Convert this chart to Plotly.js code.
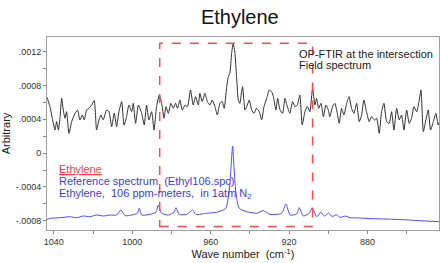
<!DOCTYPE html>
<html>
<head>
<meta charset="utf-8">
<script src="https://cdn.plot.ly/plotly-3.0.1.min.js"></script>
<style>
html,body{margin:0;padding:0;background:#fff;}
#chart{width:440px;height:263px;}
</style>
</head>
<body>
<div id="chart"></div>
<script>
// Field spectrum (OP-FTIR at the intersection)
const fieldWave = [1044.0,1043.7,1042.0,1040.8,1039.4,1038.6,1037.7,1036.9,1036.0,1035.2,1034.3,1033.5,1032.3,1030.9,1029.6,1027.9,1026.7,1025.5,1024.5,1023.3,1022.1,1020.7,1019.4,1018.2,1017.0,1016.0,1014.8,1013.1,1011.9,1010.5,1009.2,1008.0,1006.8,1005.4,1004.2,1002.9,1001.7,1000.3,999.5,998.3,996.9,995.2,993.9,992.7,991.5,990.1,988.9,987.6,986.2,985.0,983.8,982.8,981.6,980.3,979.1,977.9,976.9,975.7,974.5,973.1,971.8,970.3,968.9,967.7,966.3,965.5,964.3,962.9,961.7,960.4,959.2,957.8,956.6,955.3,954.1,953.1,951.9,951.0,950.2,949.3,948.5,947.6,946.8,945.9,945.1,944.2,943.7,942.5,941.3,940.3,939.1,937.9,936.6,935.2,934.0,932.8,931.4,930.1,928.9,928.0,926.7,925.8,924.6,923.3,922.1,920.9,919.6,918.2,917.0,915.8,914.5,913.3,911.9,910.7,909.4,908.0,906.8,906.0,904.9,903.7,902.5,901.2,900.0,899.2,897.8,896.6,895.4,894.4,893.2,892.0,890.6,889.4,888.1,886.9,885.5,884.2,883.0,881.8,880.5,879.1,877.9,876.5,875.3,874.0,872.8,871.6,870.2,868.9,867.7,866.5,865.1,863.8,862.6,861.4,860.0,858.7,857.5,856.3,854.9,853.7,852.7,851.5,850.2,849.0,847.8,846.4,845.1,843.9,843.0];
const fieldValue = [6.70e-4,6.68e-4,5.50e-4,4.12e-4,2.73e-4,3.72e-4,2.73e-4,4.12e-4,6.48e-4,5.10e-4,4.12e-4,4.90e-4,2.34e-4,3.72e-4,4.51e-4,5.10e-4,3.92e-4,4.51e-4,3.92e-4,5.10e-4,5.30e-4,5.69e-4,6.21e-4,2.73e-4,3.92e-4,4.51e-4,3.92e-4,5.10e-4,4.90e-4,3.13e-4,4.71e-4,3.13e-4,4.90e-4,6.09e-4,3.33e-4,4.31e-4,5.69e-4,4.90e-4,5.89e-4,3.52e-4,5.69e-4,4.71e-4,3.33e-4,5.69e-4,3.92e-4,4.90e-4,2.73e-4,5.50e-4,6.88e-4,5.89e-4,4.12e-4,5.50e-4,4.71e-4,5.89e-4,5.30e-4,5.89e-4,5.30e-4,6.28e-4,5.10e-4,5.69e-4,5.50e-4,7.47e-4,5.69e-4,6.68e-4,5.69e-4,7.07e-4,6.09e-4,7.07e-4,6.09e-4,5.69e-4,6.28e-4,5.50e-4,4.51e-4,5.89e-4,6.09e-4,5.30e-4,7.66e-4,9.05e-4,9.44e-4,11.81e-4,12.99e-4,11.81e-4,9.05e-4,6.28e-4,5.89e-4,7.30e-4,7.86e-4,5.10e-4,5.69e-4,6.28e-4,5.10e-4,4.71e-4,5.30e-4,4.90e-4,3.92e-4,5.50e-4,6.48e-4,7.47e-4,7.27e-4,6.68e-4,5.10e-4,6.48e-4,5.10e-4,4.71e-4,6.48e-4,5.50e-4,4.71e-4,6.09e-4,5.50e-4,5.69e-4,6.88e-4,3.33e-4,4.90e-4,5.50e-4,4.90e-4,7.66e-4,5.69e-4,6.48e-4,5.30e-4,5.89e-4,4.31e-4,5.69e-4,5.10e-4,4.31e-4,5.50e-4,5.89e-4,4.71e-4,3.52e-4,5.30e-4,4.51e-4,5.89e-4,6.68e-4,5.30e-4,4.71e-4,5.89e-4,3.72e-4,4.51e-4,6.28e-4,4.90e-4,3.72e-4,4.31e-4,3.92e-4,4.12e-4,2.34e-4,4.90e-4,5.89e-4,3.72e-4,3.52e-4,4.90e-4,2.73e-4,5.30e-4,3.92e-4,4.51e-4,2.73e-4,5.10e-4,3.52e-4,4.12e-4,5.50e-4,4.90e-4,6.09e-4,7.47e-4,2.54e-4,3.92e-4,5.10e-4,2.73e-4,3.72e-4,4.71e-4,3.33e-4,3.92e-4];

// Reference spectrum (Ethyl106.spc)
const refWave = [1043.5,1042.0,1036.9,1031.8,1028.4,1025.0,1021.6,1018.2,1014.8,1011.4,1008.0,1005.8,1003.7,1000.3,997.4,996.4,995.2,991.0,987.9,986.7,985.0,981.6,978.7,977.7,976.0,972.2,969.2,967.5,962.0,956.9,953.6,952.2,950.5,949.6,948.8,948.1,947.1,945.4,941.6,936.5,933.2,929.7,923.8,921.6,919.5,916.1,914.8,912.8,909.7,908.2,905.9,903.8,902.0,899.8,898.0,895.8,894.0,891.0,888.9,885.5,878.0,868.5,860.0,851.7,843.0];
const refValue = [-7.86e-4,-7.72e-4,-7.65e-4,-7.53e-4,-7.65e-4,-7.44e-4,-7.53e-4,-7.33e-4,-7.44e-4,-7.33e-4,-7.33e-4,-6.73e-4,-7.40e-4,-7.33e-4,-7.12e-4,-6.53e-4,-7.33e-4,-7.25e-4,-7.00e-4,-6.14e-4,-7.12e-4,-7.33e-4,-7.00e-4,-6.46e-4,-7.25e-4,-7.25e-4,-6.73e-4,-7.25e-4,-7.12e-4,-7.00e-4,-6.73e-4,-6.53e-4,-4.37e-4,-1.61e-4,0.84e-4,-1.61e-4,-4.76e-4,-6.53e-4,-6.93e-4,-7.12e-4,-6.81e-4,-7.25e-4,-7.12e-4,-6.02e-4,-7.33e-4,-7.20e-4,-6.46e-4,-7.44e-4,-7.12e-4,-6.46e-4,-7.53e-4,-7.00e-4,-7.45e-4,-7.10e-4,-7.50e-4,-7.30e-4,-7.60e-4,-7.45e-4,-7.65e-4,-7.67e-4,-7.75e-4,-7.82e-4,-7.90e-4,-8.02e-4,-8.12e-4];

// Tick labels
const xTickVals = [1040,1000,960,920,880];
const xTickText = ['1040','1000','960','920','880'];
const xMinorVals = [1020,980,940,900,860];
const yTickVals = [0.0012,0.0008,0.0004,0,-0.0004,-0.0008];
const yTickText = ['.0012','.0008','.0004','0','-.0004','-.0008'];
const yMinorVals = [0.001,0.0006,0.0002,-0.0002,-0.0006];

// Highlighted region (dashed box)
const boxWave = [986, 908];
const boxValue = [-0.00087, 0.0013];

const FONT = 'Arial, "Liberation Sans", sans-serif';

const traces = [
  {x: fieldWave, y: fieldValue, type: 'scatter', mode: 'lines',
   line: {color: '#303030', width: 1, shape: 'spline', smoothing: 0.5}, hoverinfo: 'skip'},
  {x: refWave, y: refValue, type: 'scatter', mode: 'lines',
   line: {color: '#4b4bff', width: 1, shape: 'spline', smoothing: 0.6}, hoverinfo: 'skip'}
];

const layout = {
  width: 440, height: 263,
  margin: {l: 47, r: 1, t: 37, b: 33},
  paper_bgcolor: '#fff', plot_bgcolor: '#fff',
  showlegend: false,
  font: {family: FONT, color: '#222'},
  title: {text: 'Ethylene', font: {size: 20, color: '#111', family: FONT},
          x: 0.545, xanchor: 'center', y: 0.935, yanchor: 'middle'},
  xaxis: {
    range: [1043.5, 843.5], showgrid: false, zeroline: false,
    showline: true, linecolor: '#a0a0a0', linewidth: 1, mirror: true,
    ticks: 'outside', ticklen: 3, tickcolor: '#888',
    tickmode: 'array', tickvals: xTickVals, ticktext: xTickText,
    minor: {tickmode: 'array', tickvals: xMinorVals, ticks: 'outside', ticklen: 3, tickcolor: '#888', showgrid: false},
    tickfont: {size: 9, color: '#333'},
    title: {text: 'Wave number  (cm<sup>-1</sup>)', font: {size: 11, color: '#222'}, standoff: 4}
  },
  yaxis: {
    range: [-0.00091, 0.001374], showgrid: false, zeroline: false,
    showline: true, linecolor: '#a0a0a0', linewidth: 1, mirror: true,
    ticks: 'outside', ticklen: 3, tickcolor: '#888',
    tickmode: 'array', tickvals: yTickVals, ticktext: yTickText,
    minor: {tickmode: 'array', tickvals: yMinorVals, ticks: 'outside', ticklen: 3, tickcolor: '#888', showgrid: false},
    tickfont: {size: 9, color: '#333'},
    title: {text: 'Arbitrary', font: {size: 11, color: '#222'}, standoff: 7}
  },
  shapes: [
    {type: 'rect', xref: 'x', yref: 'y', x0: boxWave[0], x1: boxWave[1], y0: boxValue[0], y1: boxValue[1],
     line: {color: '#ff4a4a', width: 1.5, dash: 'dash'}, fillcolor: 'rgba(0,0,0,0)'}
  ],
  annotations: [
    {xref: 'x', yref: 'y', x: 916, y: 0.001173, xanchor: 'left', yanchor: 'middle', showarrow: false,
     text: 'OP-FTIR at the intersection', font: {size: 11, color: '#222'}},
    {xref: 'x', yref: 'y', x: 916, y: 0.001037, xanchor: 'left', yanchor: 'middle', showarrow: false,
     text: 'Field spectrum', font: {size: 11, color: '#222'}},
    {xref: 'x', yref: 'y', x: 1038.4, y: -0.000188, xanchor: 'left', yanchor: 'middle', showarrow: false,
     text: '<u>Ethylene</u>', font: {size: 11, color: '#ff3c3c'}},
    {xref: 'x', yref: 'y', x: 1038.4, y: -0.00033, xanchor: 'left', yanchor: 'middle', showarrow: false,
     text: 'Reference spectrum  (Ethyl106.spc)', font: {size: 11, color: '#3c3cf0'}},
    {xref: 'x', yref: 'y', x: 1038.4, y: -0.000484, xanchor: 'left', yanchor: 'middle', showarrow: false,
     text: 'Ethylene,  106 ppm-meters,  in 1atm N<sub>2</sub>', font: {size: 11, color: '#3c3cf0'}}
  ]
};

Plotly.newPlot('chart', traces, layout, {staticPlot: true, displayModeBar: false});
</script>
</body>
</html>
